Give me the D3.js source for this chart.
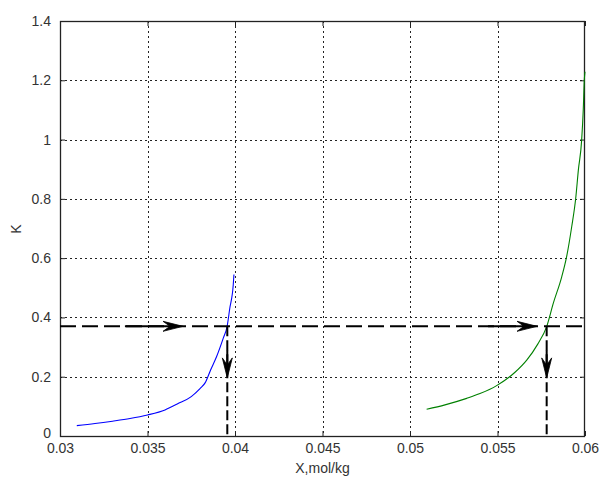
<!DOCTYPE html>
<html>
<head>
<meta charset="utf-8">
<script src="https://cdn.jsdelivr.net/npm/d3@7"></script>
<style>
  html, body { margin: 0; padding: 0; background: #fff; }
  svg { display: block; }
  text { font-family: "Liberation Sans", Arial, sans-serif; fill: #333; }
</style>
</head>
<body>
<svg id="chart" width="601" height="478"></svg>
<script>
// Branch 1 (blue): K versus X, mol/kg
const blueX = [0.03096, 0.0320, 0.0330, 0.0340, 0.0350, 0.0360, 0.0367, 0.0375, 0.0380, 0.0383, 0.0386, 0.03895, 0.03933, 0.03955, 0.0397, 0.0399, 0.03994];
const blueK = [0.035, 0.042, 0.050, 0.059, 0.071, 0.088, 0.108, 0.133, 0.160, 0.180, 0.222, 0.268, 0.330, 0.370, 0.430, 0.510, 0.545];

// Branch 2 (green): K versus X, mol/kg
const greenX = [0.05095, 0.0520, 0.05324, 0.0540, 0.05495, 0.0560, 0.05667, 0.0573, 0.05781, 0.05819, 0.05867, 0.05895, 0.05924, 0.05947, 0.05962, 0.05981, 0.05990, 0.05996, 0.0600];
const greenK = [0.090, 0.105, 0.127, 0.143, 0.170, 0.215, 0.256, 0.310, 0.369, 0.448, 0.537, 0.605, 0.706, 0.802, 0.897, 0.999, 1.100, 1.201, 1.229];

// Reading of the working level K and the resulting X on each branch
const levelK = 0.37;
const readX = [0.03956, 0.05781];
// Arrow annotations (data units): horizontal arrows [from, to], vertical arrows [from, to]
const hArrows = [[0.03371, 0.03703], [0.05446, 0.05726]];
const vArrows = [[0.29, 0.196], [0.29, 0.196]];

const xTicks = [0.03, 0.035, 0.04, 0.045, 0.05, 0.055, 0.06];
const xTickLabels = ["0.03", "0.035", "0.04", "0.045", "0.05", "0.055", "0.06"];
const yTicks = [0, 0.2, 0.4, 0.6, 0.8, 1, 1.2, 1.4];
const yTickLabels = ["0", "0.2", "0.4", "0.6", "0.8", "1", "1.2", "1.4"];
const xTitle = "X,mol/kg";
const yTitle = "K";

const svg = d3.select("#chart");
const m = { left: 60, right: 585, top: 21, bottom: 436 };

const x = d3.scaleLinear().domain([0.03, 0.06]).range([m.left, m.right]);
const y = d3.scaleLinear().domain([0, 1.4]).range([m.bottom, m.top]);

// dotted grid
const grid = svg.append("g").attr("stroke", "#222").attr("stroke-width", 1).attr("stroke-dasharray", "2,3");
grid.selectAll("line.gx").data(xTicks.slice(1, -1)).join("line")
  .attr("x1", d => Math.round(x(d)) + 0.5).attr("x2", d => Math.round(x(d)) + 0.5)
  .attr("y1", m.top).attr("y2", m.bottom);
grid.selectAll("line.gy").data(yTicks.slice(1, -1)).join("line")
  .attr("x1", m.left).attr("x2", m.right)
  .attr("y1", d => Math.round(y(d)) + 0.5).attr("y2", d => Math.round(y(d)) + 0.5);

// axes with inward ticks on all four sides
const tickLen = 5;
const axB = d3.axisBottom(x).tickValues(xTicks).tickSizeInner(-tickLen).tickSizeOuter(0).tickPadding(10)
  .tickFormat((d, i) => xTickLabels[i]);
const axT = d3.axisTop(x).tickValues(xTicks).tickSizeInner(-tickLen).tickSizeOuter(0).tickFormat("");
const axL = d3.axisLeft(y).tickValues(yTicks).tickSizeInner(-tickLen).tickSizeOuter(0).tickPadding(9)
  .tickFormat((d, i) => yTickLabels[i]);
const axR = d3.axisRight(y).tickValues(yTicks).tickSizeInner(-tickLen).tickSizeOuter(0).tickFormat("");

function styleAxis(g) {
  g.select(".domain").remove();
  g.selectAll(".tick line").attr("stroke", "#222");
  g.selectAll(".tick text").attr("font-size", 14).attr("fill", "#333")
    .attr("font-family", "'Liberation Sans', Arial, sans-serif");
}
svg.append("g").attr("transform", `translate(0,${m.bottom})`).call(axB).call(styleAxis)
  .selectAll(".tick text").attr("dy", "0.5em");
const gL = svg.append("g").attr("transform", `translate(${m.left},0)`).call(axL).call(styleAxis);
// the zero label sits just above the first x label at the corner
gL.selectAll(".tick text").filter(d => d === 0).attr("dy", "0.1em");
svg.append("g").attr("transform", `translate(0,${m.top})`).call(axT).call(styleAxis);
svg.append("g").attr("transform", `translate(${m.right},0)`).call(axR).call(styleAxis);

// frame
svg.append("rect").attr("x", m.left + 0.5).attr("y", m.top + 0.5)
  .attr("width", m.right - m.left - 1).attr("height", m.bottom - m.top)
  .attr("fill", "none").attr("stroke", "#222").attr("stroke-width", 1.3);

// curves
const line = d3.line().x(d => x(d[0])).y(d => y(d[1])).curve(d3.curveMonotoneX);
svg.append("path").datum(blueX.map((v, i) => [v, blueK[i]]))
  .attr("d", line).attr("fill", "none").attr("stroke", "#0000ff").attr("stroke-width", 1.1);
svg.append("path").datum(greenX.map((v, i) => [v, greenK[i]]))
  .attr("d", line).attr("fill", "none").attr("stroke", "#008000").attr("stroke-width", 1.1);

// working level and readings
svg.append("line").attr("x1", m.left).attr("x2", m.right)
  .attr("y1", y(levelK)).attr("y2", y(levelK))
  .attr("stroke", "#000").attr("stroke-width", 2).attr("stroke-dasharray", "16,6");
svg.selectAll("line.vread").data(readX).join("line")
  .attr("x1", d => x(d)).attr("x2", d => x(d))
  .attr("y1", y(levelK)).attr("y2", y(0))
  .attr("stroke", "#000").attr("stroke-width", 2).attr("stroke-dasharray", "10,4");

// arrows
function arrow(x1, y1, x2, y2) {
  const ang = Math.atan2(y2 - y1, x2 - x1) * 180 / Math.PI;
  const g = svg.append("g");
  const L = 20, w = 5;
  const len = Math.hypot(x2 - x1, y2 - y1);
  g.append("line").attr("x1", x1).attr("y1", y1)
    .attr("x2", x2 - (x2 - x1) * 0.3 * L / len).attr("y2", y2 - (y2 - y1) * 0.3 * L / len)
    .attr("stroke", "#000").attr("stroke-width", 2);
  g.append("path").attr("d", `M0,0 L${-L},${-w} L${-0.65 * L},0 L${-L},${w} Z`)
    .attr("transform", `translate(${x2},${y2}) rotate(${ang})`)
    .attr("fill", "#000").attr("stroke", "#000").attr("stroke-width", 0.8).attr("stroke-linejoin", "miter");
}
hArrows.forEach(a => arrow(x(a[0]), y(levelK), x(a[1]), y(levelK)));
vArrows.forEach((a, i) => arrow(x(readX[i]), y(a[0]), x(readX[i]), y(a[1])));

// axis titles
svg.append("text").attr("x", (m.left + m.right) / 2).attr("y", 473)
  .attr("text-anchor", "middle").attr("font-size", 14).text(xTitle);
svg.append("text").attr("transform", `translate(21,229) rotate(-90)`)
  .attr("text-anchor", "middle").attr("font-size", 14).text(yTitle);
</script>
</body>
</html>
